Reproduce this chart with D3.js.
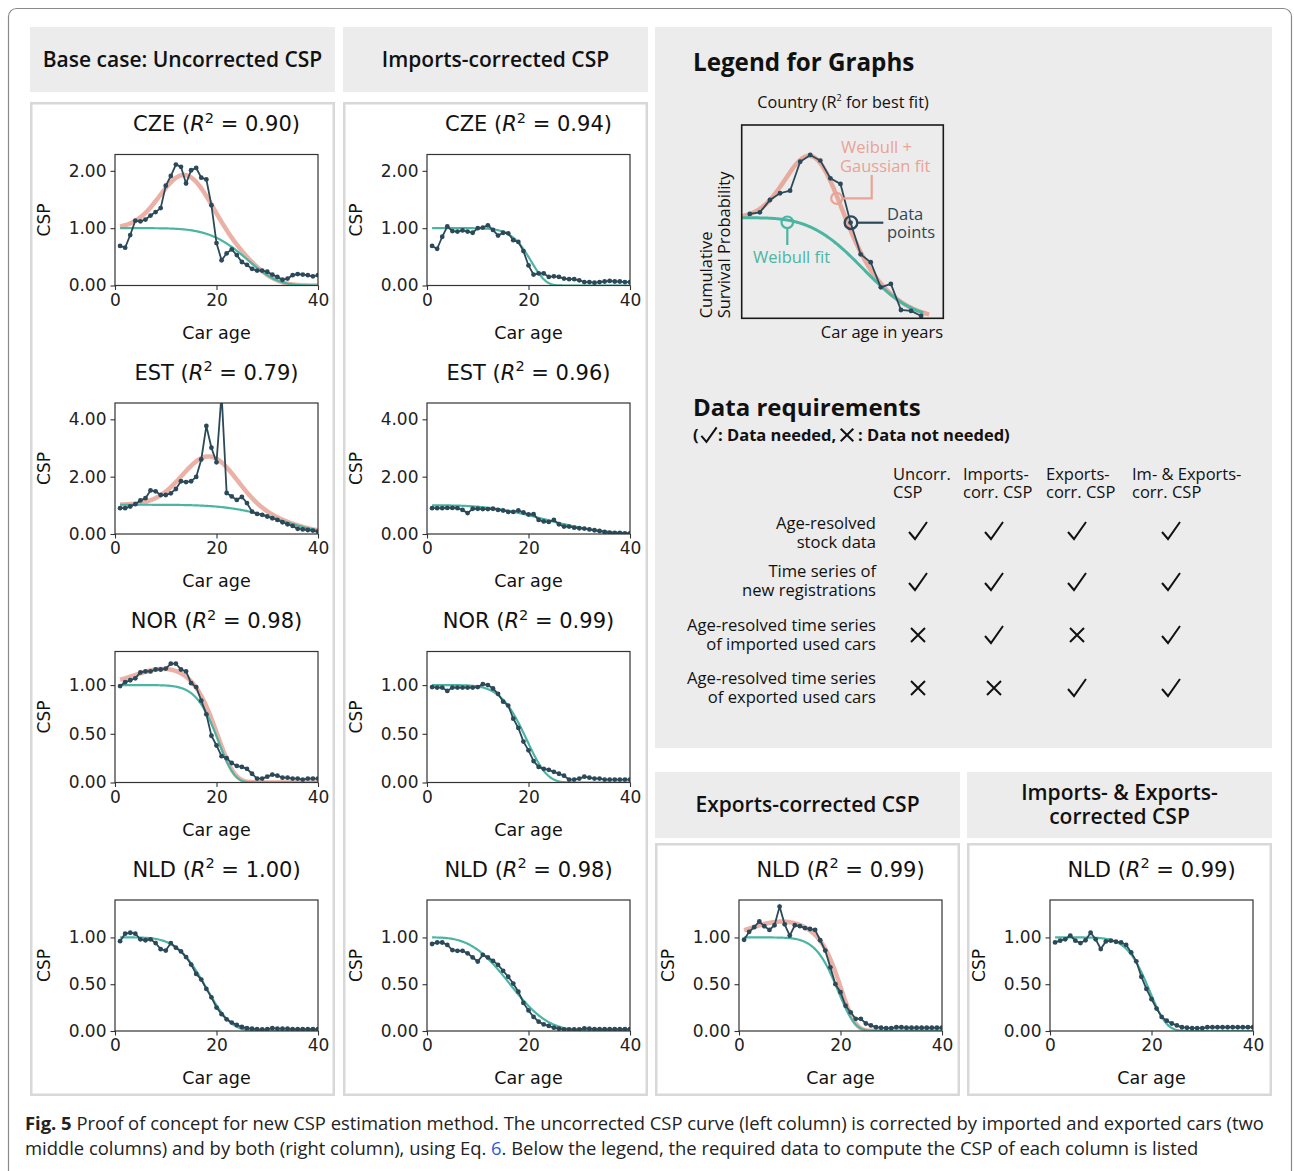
<!DOCTYPE html>
<html>
<head>
<meta charset="utf-8">
<script src="https://cdn.jsdelivr.net/npm/d3@7"></script>
<style>
  body { margin: 0; background: #fff; }
  svg { display: block; }
</style>
</head>
<body>
<script>
// ---------------------------------------------------------------------------
// Observed cumulative survival probability (CSP) by car age, 1..40 years
// ---------------------------------------------------------------------------
const ages = [1,2,3,4,5,6,7,8,9,10,11,12,13,14,15,16,17,18,19,20,
              21,22,23,24,25,26,27,28,29,30,31,32,33,34,35,36,37,38,39,40];

const czeUncorr = [0.69,0.66,0.88,1.13,1.12,1.15,1.22,1.28,1.35,1.74,1.91,2.11,2.07,1.78,2.01,2.05,1.88,1.85,1.40,0.74,
                   0.44,0.56,0.63,0.53,0.41,0.36,0.29,0.26,0.26,0.24,0.19,0.15,0.10,0.12,0.18,0.20,0.19,0.18,0.16,0.18];
const estUncorr = [0.90,0.90,0.96,1.04,1.17,1.25,1.52,1.49,1.36,1.36,1.42,1.57,1.84,1.81,1.84,1.99,2.60,3.77,3.01,2.50,
                   4.90,1.43,1.31,1.19,1.29,1.08,0.78,0.70,0.67,0.61,0.55,0.49,0.41,0.34,0.28,0.18,0.16,0.14,0.12,0.08];
const norUncorr = [0.99,1.03,1.05,1.07,1.13,1.14,1.14,1.16,1.16,1.17,1.22,1.22,1.16,1.14,1.02,0.98,0.84,0.70,0.48,0.38,
                   0.27,0.25,0.20,0.17,0.16,0.14,0.09,0.04,0.04,0.06,0.08,0.07,0.05,0.05,0.04,0.04,0.03,0.04,0.04,0.04];
const nldUncorr = [0.96,1.04,1.05,1.04,0.98,0.97,0.98,0.94,0.875,0.86,0.94,0.89,0.85,0.79,0.71,0.61,0.55,0.45,0.36,0.25,
                   0.18,0.125,0.09,0.064,0.043,0.03,0.025,0.02,0.018,0.02,0.03,0.025,0.025,0.025,0.02,0.02,0.02,0.02,0.02,0.02];

const czeImp = [0.69,0.64,0.85,1.03,0.95,0.94,0.96,0.94,0.92,1.00,1.01,1.05,0.97,0.87,0.92,0.91,0.79,0.76,0.60,0.35,
                0.19,0.21,0.21,0.15,0.16,0.15,0.12,0.11,0.11,0.09,0.06,0.06,0.05,0.06,0.07,0.08,0.07,0.07,0.06,0.06];
const estImp = [0.90,0.90,0.90,0.91,0.91,0.90,0.84,0.73,0.88,0.88,0.87,0.87,0.88,0.84,0.82,0.77,0.77,0.82,0.75,0.68,
                0.69,0.49,0.44,0.42,0.49,0.34,0.26,0.26,0.22,0.20,0.19,0.16,0.13,0.105,0.07,0.05,0.035,0.035,0.023,0.023];
const norImp = [0.98,0.975,0.975,0.94,0.975,0.975,0.975,0.975,0.975,0.98,1.01,1.00,0.965,0.91,0.83,0.79,0.655,0.56,0.42,0.33,
                0.22,0.16,0.14,0.13,0.11,0.09,0.07,0.03,0.03,0.04,0.06,0.05,0.04,0.04,0.03,0.03,0.03,0.03,0.03,0.03];
const nldImp = [0.93,0.946,0.946,0.92,0.865,0.857,0.857,0.83,0.786,0.743,0.814,0.786,0.75,0.707,0.643,0.58,0.507,0.42,0.30,0.22,
                0.15,0.10,0.07,0.054,0.036,0.025,0.018,0.018,0.018,0.018,0.029,0.025,0.02,0.02,0.02,0.02,0.02,0.02,0.02,0.02];

const nldExp = [0.975,1.06,1.11,1.17,1.12,1.08,1.13,1.33,1.14,1.02,1.13,1.12,1.10,1.09,1.08,0.97,0.86,0.68,0.50,0.415,
                0.27,0.20,0.13,0.13,0.08,0.06,0.04,0.035,0.03,0.03,0.04,0.04,0.035,0.035,0.035,0.035,0.035,0.035,0.035,0.035];
const nldImpExp = [0.947,0.965,0.98,1.02,0.965,0.94,0.97,1.05,0.98,0.876,0.957,0.965,0.954,0.947,0.92,0.84,0.745,0.58,0.45,0.34,
                   0.24,0.15,0.11,0.08,0.06,0.04,0.035,0.03,0.03,0.03,0.04,0.04,0.04,0.04,0.04,0.04,0.04,0.04,0.04,0.04];

// ---------------------------------------------------------------------------
// Fitted parameters.  Weibull: [A, lambda, k];  Gaussian bump: [a, mu, sigma]
// ---------------------------------------------------------------------------
const czeUncorrWeibull = [1.00, 27.2, 5.5];
const czeUncorrGauss   = [0.95, 13.8, 4.9];
const estUncorrWeibull = [1.02, 34.5, 5.0];
const estUncorrGauss   = [1.73, 18.6, 5.3];
const norUncorrWeibull = [1.00, 20.8, 7.5];
const norUncorrGauss   = [0.17, 10.0, 6.0];
const nldUncorrWeibull = [1.00, 18.97, 4.8];
const czeImpWeibull    = [1.00, 20.9, 8.3];
const estImpWeibull    = [1.00, 26.4, 3.1];
const norImpWeibull    = [1.00, 20.3, 6.0];
const nldImpWeibull    = [1.00, 18.35, 3.2];
const nldExpWeibull    = [1.00, 20.0, 7.0];
const nldExpMixWeibull = [1.00, 20.5, 8.5];
const nldExpGauss      = [0.17, 8.5, 6.0];
const nldImpExpWeibull = [1.00, 20.1, 7.0];

// Panel titles: country code and R^2 of the best fit
const countries = ["CZE", "EST", "NOR", "NLD"];
const r2Uncorr  = ["0.90", "0.79", "0.98", "1.00"];
const r2Imp     = ["0.94", "0.96", "0.99", "0.98"];
const r2Exp     = ["0.99"];
const r2ImpExp  = ["0.99"];

// Axis limits and ticks per country row
const yMax   = [2.285, 4.57, 1.345, 1.40];
const yTicks = [[0, 1, 2], [0, 2, 4], [0, 0.5, 1], [0, 0.5, 1]];
const xTicks = [0, 20, 40];

// Schematic curve for the legend
const legendX = [0.8,1.8,2.8,3.8,4.8,5.8,6.8,7.8,8.8,9.8,10.8,11.8,12.8,13.8,14.8,15.8,16.8,17.8];
const legendY = [0.540,0.548,0.612,0.647,0.660,0.810,0.845,0.816,0.724,0.695,0.495,0.331,0.290,0.160,0.178,0.043,0.038,0.012];
const legendWeibull = [0.52, 13.3, 3.5];
const legendGauss   = [0.37, 7.1, 2.6];

// Data requirements table
const reqColumns = [["Uncorr.", "CSP"], ["Imports-", "corr. CSP"], ["Exports-", "corr. CSP"], ["Im- & Exports-", "corr. CSP"]];
const reqRows = [["Age-resolved", "stock data"], ["Time series of", "new registrations"],
                 ["Age-resolved time series", "of imported used cars"], ["Age-resolved time series", "of exported used cars"]];
const reqNeeded = [[1, 1, 1, 1], [1, 1, 1, 1], [0, 1, 0, 1], [0, 0, 1, 1]];

// ---------------------------------------------------------------------------
const SALMON = "#e9a396", TEAL = "#4bb5a2", DARK = "#2c4959";
const PANEL = "#ececec", FRAME = "#d8d8d8";
const MPL = "'DejaVu Sans', sans-serif";
const SANS = "'Open Sans', 'Noto Sans', sans-serif";

const svg = d3.select("body").append("svg").attr("width", 1294).attr("height", 1171);
const defs = svg.append("defs");

// multi-line label drawn as one text element with one tspan per line
function multiline(x, y, lines, lineGap, attrs) {
  const t = svg.append("text").attr("x", x).attr("y", y);
  Object.entries(attrs).forEach(([k, v]) => t.attr(k, v));
  lines.forEach((s, i) => t.append("tspan").attr("x", x).attr("dy", i === 0 ? 0 : lineGap).text(s));
  return t;
}

// outer figure frame
svg.append("rect").attr("x", 8.5).attr("y", 8.5).attr("width", 1283).attr("height", 1200)
  .attr("rx", 8).attr("fill", "#fff").attr("stroke", "#8a8a8a").attr("stroke-width", 1.2);

// grey header boxes and white plot columns
const headers = [
  {x: 30,  y: 27,  w: 305, h: 65, lines: ["Base case: Uncorrected CSP"]},
  {x: 343, y: 27,  w: 305, h: 65, lines: ["Imports-corrected CSP"]},
  {x: 655, y: 772, w: 305, h: 66, lines: ["Exports-corrected CSP"]},
  {x: 967, y: 772, w: 305, h: 66, lines: ["Imports- & Exports-", "corrected CSP"]}
];
headers.forEach(h => {
  svg.append("rect").attr("x", h.x).attr("y", h.y).attr("width", h.w).attr("height", h.h).attr("fill", PANEL);
  const n = h.lines.length;
  multiline(h.x + h.w / 2, h.y + h.h / 2 + 7 - (n - 1) * 12, h.lines, 24,
    {"text-anchor": "middle", "font-family": SANS, "font-weight": 600, "font-size": 21, "fill": "#111"});
});
const frames = [[30, 102, 305, 994], [343, 102, 305, 994], [655, 843, 305, 253], [967, 843, 305, 253]];
frames.forEach(([x, y, w, h]) => {
  svg.append("rect").attr("x", x + 1.25).attr("y", y + 1.25).attr("width", w - 2.5).attr("height", h - 2.5)
    .attr("fill", "#fff").attr("stroke", FRAME).attr("stroke-width", 2.5);
});

// ---------------------------------------------------------------------------
const weibull = (t, [A, lam, k]) => A * Math.exp(-Math.pow(t / lam, k));
const gauss = (t, [a, mu, s]) => a * Math.exp(-((t - mu) * (t - mu)) / (2 * s * s));

const colLeft = [115, 427, 739, 1050];
const rowTop = [154.5, 403, 651.5, 900];
const AX_W = 203, AX_H = 131;

const panels = [
  {col: 0, row: 0, r2: r2Uncorr[0], data: czeUncorr, w: czeUncorrWeibull, mix: [czeUncorrWeibull, czeUncorrGauss]},
  {col: 0, row: 1, r2: r2Uncorr[1], data: estUncorr, w: estUncorrWeibull, mix: [estUncorrWeibull, estUncorrGauss]},
  {col: 0, row: 2, r2: r2Uncorr[2], data: norUncorr, w: norUncorrWeibull, mix: [norUncorrWeibull, norUncorrGauss]},
  {col: 0, row: 3, r2: r2Uncorr[3], data: nldUncorr, w: nldUncorrWeibull, mix: null},
  {col: 1, row: 0, r2: r2Imp[0], data: czeImp, w: czeImpWeibull, mix: null},
  {col: 1, row: 1, r2: r2Imp[1], data: estImp, w: estImpWeibull, mix: null},
  {col: 1, row: 2, r2: r2Imp[2], data: norImp, w: norImpWeibull, mix: null},
  {col: 1, row: 3, r2: r2Imp[3], data: nldImp, w: nldImpWeibull, mix: null},
  {col: 2, row: 3, r2: r2Exp[0], data: nldExp, w: nldExpWeibull, mix: [nldExpMixWeibull, nldExpGauss]},
  {col: 3, row: 3, r2: r2ImpExp[0], data: nldImpExp, w: nldImpExpWeibull, mix: null}
];

const tGrid = d3.range(1, 40.0001, 0.2);

panels.forEach((p, i) => {
  const left = colLeft[p.col], top = rowTop[p.row];
  const x = d3.scaleLinear().domain([0, 40]).range([left, left + AX_W]);
  const y = d3.scaleLinear().domain([0, yMax[p.row]]).range([top + AX_H, top]);
  const g = svg.append("g");

  defs.append("clipPath").attr("id", "clip" + i).append("rect")
    .attr("x", left).attr("y", top).attr("width", AX_W).attr("height", AX_H);
  const plot = g.append("g").attr("clip-path", `url(#clip${i})`);

  if (p.mix) {
    plot.append("path").datum(tGrid)
      .attr("d", d3.line().x(t => x(t)).y(t => y(weibull(t, p.mix[0]) + gauss(t, p.mix[1]))))
      .attr("fill", "none").attr("stroke", SALMON).attr("stroke-width", 4.5).attr("stroke-opacity", 0.85);
  }
  plot.append("path").datum(tGrid)
    .attr("d", d3.line().x(t => x(t)).y(t => y(weibull(t, p.w))))
    .attr("fill", "none").attr("stroke", TEAL).attr("stroke-width", 2.2);

  const pts = ages.map((a, j) => [a, p.data[j]]);
  plot.append("path").datum(pts)
    .attr("d", d3.line().x(d => x(d[0])).y(d => y(d[1])))
    .attr("fill", "none").attr("stroke", DARK).attr("stroke-width", 1.8);
  plot.selectAll("circle.pt").data(pts).join("circle").attr("class", "pt")
    .attr("cx", d => x(d[0])).attr("cy", d => y(d[1])).attr("r", 2.4).attr("fill", DARK);

  // axes
  const xa = g.append("g").attr("transform", `translate(0,${top + AX_H})`)
    .call(d3.axisBottom(x).tickValues(xTicks).tickSize(4.5).tickPadding(3.5).tickSizeOuter(0));
  const ya = g.append("g").attr("transform", `translate(${left},0)`)
    .call(d3.axisLeft(y).tickValues(yTicks[p.row]).tickFormat(d3.format(".2f")).tickSize(4.5).tickPadding(4).tickSizeOuter(0));
  [xa, ya].forEach(a => {
    a.select(".domain").remove();
    a.selectAll("line").attr("stroke", "#333").attr("stroke-width", 1.1);
    a.selectAll("text").attr("font-family", MPL).attr("font-size", 17).attr("fill", "#222");
  });
  g.append("rect").attr("x", left).attr("y", top).attr("width", AX_W).attr("height", AX_H)
    .attr("fill", "none").attr("stroke", "#333").attr("stroke-width", 1.2);

  // title with R^2
  const cx = left + AX_W / 2;
  const title = g.append("text").attr("x", cx).attr("y", top - 23.5).attr("text-anchor", "middle")
    .attr("font-family", MPL).attr("font-size", 21).attr("fill", "#111");
  title.append("tspan").text(countries[p.row] + " (");
  title.append("tspan").attr("font-style", "italic").text("R");
  title.append("tspan").attr("font-size", 14.5).attr("dy", -8.5).text("2");
  title.append("tspan").attr("dy", 8.5).text(" = " + p.r2 + ")");

  g.append("text").attr("x", cx).attr("y", top + AX_H + 53).attr("text-anchor", "middle")
    .attr("font-family", MPL).attr("font-size", 17.5).attr("fill", "#111").text("Car age");
  g.append("text").attr("transform", `translate(${left - 65},${top + AX_H / 2}) rotate(-90)`)
    .attr("text-anchor", "middle").attr("font-family", MPL).attr("font-size", 17).attr("fill", "#111").text("CSP");
});

// ---------------------------------------------------------------------------
// Legend panel
// ---------------------------------------------------------------------------
svg.append("rect").attr("x", 655).attr("y", 27).attr("width", 617).attr("height", 721).attr("fill", PANEL);
svg.append("text").attr("x", 693).attr("y", 71).attr("font-family", SANS).attr("font-weight", 700)
  .attr("font-size", 24.2).attr("fill", "#111").text("Legend for Graphs");

const lg = svg.append("g");
const lx = d3.scaleLinear().domain([0, 20]).range([741.7, 943.3]);
const ly = d3.scaleLinear().domain([0, 1]).range([318.3, 125]);
const lGridW = d3.range(0, 18.01, 0.1);
const lGridM = d3.range(0, 18.61, 0.1);
lg.append("path").datum(lGridM)
  .attr("d", d3.line().x(t => lx(t)).y(t => ly(weibull(t, legendWeibull) + gauss(t, legendGauss))))
  .attr("fill", "none").attr("stroke", SALMON).attr("stroke-width", 4.5).attr("stroke-opacity", 0.9);
lg.append("path").datum(lGridW)
  .attr("d", d3.line().x(t => lx(t)).y(t => ly(weibull(t, legendWeibull))))
  .attr("fill", "none").attr("stroke", TEAL).attr("stroke-width", 3);
const lpts = legendX.map((v, i) => [v, legendY[i]]);
lg.append("path").datum(lpts).attr("d", d3.line().x(d => lx(d[0])).y(d => ly(d[1])))
  .attr("fill", "none").attr("stroke", DARK).attr("stroke-width", 1.8);
lg.selectAll("circle.lp").data(lpts).join("circle").attr("class", "lp")
  .attr("cx", d => lx(d[0])).attr("cy", d => ly(d[1])).attr("r", 2.4).attr("fill", DARK);
lg.append("rect").attr("x", 741.7).attr("y", 125).attr("width", 201.6).attr("height", 193.3)
  .attr("fill", "none").attr("stroke", "#1a1a1a").attr("stroke-width", 1.6);

// callouts
lg.append("circle").attr("cx", 836.7).attr("cy", 198.3).attr("r", 5.5).attr("fill", "none").attr("stroke", SALMON).attr("stroke-width", 2.2);
lg.append("path").attr("d", "M842.2,198.3H871.7V175").attr("fill", "none").attr("stroke", SALMON).attr("stroke-width", 2.2);
lg.append("circle").attr("cx", 851).attr("cy", 222.7).attr("r", 6.3).attr("fill", "none").attr("stroke", DARK).attr("stroke-width", 2.4);
lg.append("path").attr("d", "M857.3,222.7H883.3").attr("stroke", DARK).attr("stroke-width", 2.2);
lg.append("circle").attr("cx", 787.3).attr("cy", 222.3).attr("r", 5.8).attr("fill", "none").attr("stroke", TEAL).attr("stroke-width", 2.2);
lg.append("path").attr("d", "M787.3,228.1V245").attr("stroke", TEAL).attr("stroke-width", 2.2);

multiline(841, 153, ["Weibull +", "Gaussian fit"], 18.5, {"font-family": SANS, "font-size": 16.5, "fill": SALMON})
  .select("tspan:nth-child(2)").attr("x", 840);
multiline(887, 219.5, ["Data", "points"], 18.5, {"font-family": SANS, "font-size": 16.5, "fill": DARK});
svg.append("text").attr("x", 753).attr("y", 263).attr("font-family", SANS).attr("font-size", 16.5)
  .attr("fill", TEAL).text("Weibull fit");
svg.append("text").attr("x", 943).attr("y", 338).attr("text-anchor", "end").attr("font-family", SANS)
  .attr("font-size", 16.5).attr("fill", "#111").text("Car age in years");

const ct = svg.append("text").attr("x", 843).attr("y", 108).attr("text-anchor", "middle")
  .attr("font-family", SANS).attr("font-size", 16.2).attr("fill", "#111");
ct.append("tspan").text("Country (R");
ct.append("tspan").attr("font-size", 9).attr("dy", -7).text("2");
ct.append("tspan").attr("dy", 7).text(" for best fit)");

// y label of the schematic: two rotated lines in one text element
const yl = svg.append("text").attr("transform", "translate(711.5,318.3) rotate(-90)")
  .attr("font-family", SANS).attr("font-size", 16.5).attr("fill", "#111");
yl.append("tspan").attr("x", 0).attr("y", 0).text("Cumulative");
yl.append("tspan").attr("x", 0).attr("dy", 18.5).text("Survival Probability");

// ---------------------------------------------------------------------------
// Data requirements
// ---------------------------------------------------------------------------
svg.append("text").attr("x", 693).attr("y", 416).attr("font-family", SANS).attr("font-weight", 700)
  .attr("font-size", 24).attr("fill", "#111").text("Data requirements");

const checkPath = (cx, cy, s) => `M${cx - 9 * s},${cy + 1 * s}L${cx - 3 * s},${cy + 8 * s}L${cx + 9 * s},${cy - 9 * s}`;
const crossPath = (cx, cy, s) => `M${cx - 7 * s},${cy - 7 * s}L${cx + 7 * s},${cy + 7 * s}M${cx + 7 * s},${cy - 7 * s}L${cx - 7 * s},${cy + 7 * s}`;

const sub = (x, s) => svg.append("text").attr("x", x).attr("y", 441).attr("font-family", SANS)
  .attr("font-weight", 700).attr("font-size", 16.5).attr("fill", "#111").text(s);
sub(693, "(");
svg.append("path").attr("d", checkPath(709, 435, 0.85)).attr("fill", "none").attr("stroke", "#111").attr("stroke-width", 2);
sub(718, ": Data needed,");
svg.append("path").attr("d", crossPath(847, 435, 0.9)).attr("fill", "none").attr("stroke", "#111").attr("stroke-width", 2);
sub(858, ": Data not needed)");

const colX = [893, 963, 1046, 1132];
const markX = [918, 994, 1077, 1171];
const rowLabelY = [529, 577, 631, 684];
const markY = [531, 582, 635, 688];

reqColumns.forEach((lines, i) => {
  multiline(colX[i], 480, lines, 18, {"font-family": SANS, "font-size": 16.5, "fill": "#111"});
});
reqRows.forEach((lines, r) => {
  multiline(876, rowLabelY[r], lines, 18.5, {"text-anchor": "end", "font-family": SANS, "font-size": 16.6, "fill": "#111"});
  reqNeeded[r].forEach((v, c) => {
    svg.append("path").attr("d", v ? checkPath(markX[c], markY[r], 1) : crossPath(markX[c], markY[r], 1))
      .attr("fill", "none").attr("stroke", "#111").attr("stroke-width", 2);
  });
});

// ---------------------------------------------------------------------------
// Caption: condensed by a horizontal scale so each line spans its measure
// ---------------------------------------------------------------------------
function captionLine(yBase, width, parts) {
  const t = svg.append("text").attr("x", 0).attr("y", 0)
    .attr("font-family", SANS).attr("font-size", 18.5).attr("fill", "#222");
  parts.forEach(([s, style]) => {
    const ts = t.append("tspan").text(s);
    if (style === "bold") ts.attr("font-weight", 700);
    if (style === "link") ts.attr("fill", "#2a5bd7");
  });
  const natural = t.node().getComputedTextLength();
  t.attr("transform", `translate(25,${yBase}) scale(${width / natural},1)`);
}
captionLine(1130, 1240, [
  ["Fig. 5", "bold"],
  [" Proof of concept for new CSP estimation method. The uncorrected CSP curve (left column) is corrected by imported and exported cars (two"]
]);
captionLine(1155, 1175, [
  ["middle columns) and by both (right column), using Eq. "],
  ["6", "link"],
  [". Below the legend, the required data to compute the CSP of each column is listed"]
]);
</script>
</body>
</html>
